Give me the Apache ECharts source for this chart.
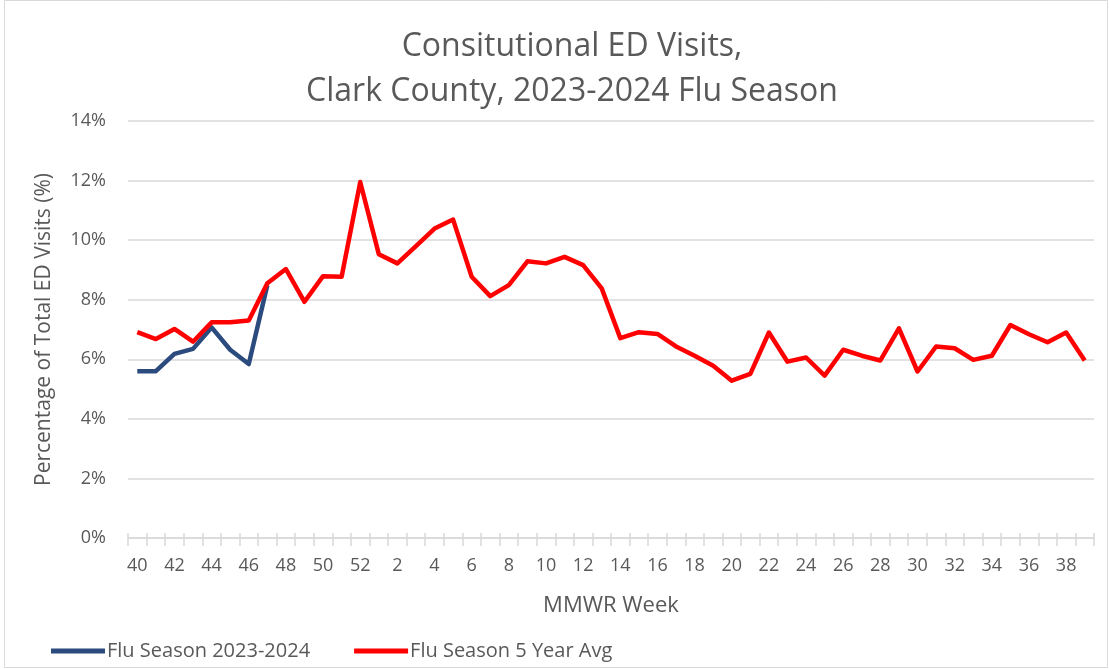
<!DOCTYPE html>
<html>
<head>
<meta charset="utf-8">
<script src="https://cdn.jsdelivr.net/npm/echarts@6/dist/echarts.min.js"></script>
<style>
html,body{margin:0;padding:0;background:#fff;}
#chart{width:1109px;height:669px;}
</style>
</head>
<body>
<div id="chart"></div>
<script>
const weeks = [40,41,42,43,44,45,46,47,48,49,50,51,52,1,2,3,4,5,6,7,8,9,10,11,12,13,14,15,16,17,18,19,20,21,22,23,24,25,26,27,28,29,30,31,32,33,34,35,36,37,38,39];
const season2324 = [5.6,5.6,6.18,6.35,7.07,6.32,5.84,8.49];
const fiveYearAvg = [6.91,6.68,7.02,6.59,7.24,7.24,7.3,8.55,9.03,7.93,8.79,8.77,11.95,9.53,9.22,9.8,10.39,10.69,8.77,8.12,8.49,9.29,9.22,9.44,9.16,8.38,6.71,6.91,6.85,6.43,6.12,5.78,5.28,5.51,6.9,5.92,6.06,5.45,6.32,6.12,5.96,7.04,5.59,6.43,6.37,5.98,6.12,7.15,6.84,6.57,6.9,5.96];
const yTicks = [0,2,4,6,8,10,12,14];

const FONT = '"Open Sans", Lato, sans-serif';
const TXT = '#595959';
const chart = echarts.init(document.getElementById('chart'), null, {renderer:'canvas'});
const grid = {left:128, right:15, top:121, bottom:131};
chart.setOption({
  backgroundColor:'#fff',
  animation:false,
  graphic:[{type:'rect', shape:{x:4.5,y:0.5,width:1103,height:667}, style:{fill:'none', stroke:'#d9d9d9', lineWidth:1}, silent:true}],
  title:{
    text:'Consitutional ED Visits,\nClark County, 2023-2024 Flu Season',
    left:567, textAlign:'center', top:19,
    textStyle:{fontFamily:FONT, fontSize:32, fontWeight:'normal', color:TXT, lineHeight:45}
  },
  legend:{
    left:46, top:636, itemWidth:54, itemHeight:5, itemGap:44,
    icon:'rect',
    textStyle:{fontFamily:FONT, fontSize:20, color:TXT, padding:[0,0,0,-3]},
    data:['Flu Season 2023-2024','Flu Season 5 Year Avg']
  },
  grid:grid,
  xAxis:[{
    type:'category', data:weeks, boundaryGap:true,
    name:'MMWR Week', nameLocation:'middle', nameGap:57,
    nameTextStyle:{fontFamily:FONT, fontSize:22, color:TXT},
    axisLine:{lineStyle:{color:'#d9d9d9', width:1.5}},
    axisTick:{show:true, interval:0, length:8, lineStyle:{color:'#d9d9d9', width:1.5}},
    axisLabel:{interval:1, fontFamily:FONT, fontSize:18, color:TXT, margin:19},
    splitLine:{show:false}
  },{
    type:'category', data:weeks, boundaryGap:true, position:'bottom',
    axisLine:{show:false},
    axisTick:{show:true, inside:true, interval:0, length:5, lineStyle:{color:'#d9d9d9', width:1.5}},
    axisLabel:{show:false}, splitLine:{show:false}
  }],
  yAxis:{
    type:'value', min:0, max:14, interval:2,
    name:'Percentage of Total ED Visits (%)', nameLocation:'middle', nameGap:73, nameRotate:90,
    nameTextStyle:{fontFamily:FONT, fontSize:21, color:TXT},
    axisLine:{show:false}, axisTick:{show:false},
    axisLabel:{fontFamily:FONT, fontSize:18, color:TXT, margin:22, formatter:v=>v+'%'},
    splitLine:{lineStyle:{color:'#d9d9d9', width:1.5}}
  },
  series:[{
    name:'Flu Season 2023-2024', type:'line', data:season2324,
    symbol:'none', lineStyle:{color:'#2B4A7E', width:4.5, join:'round'}, itemStyle:{color:'#2B4A7E'}, z:2
  },{
    name:'Flu Season 5 Year Avg', type:'line', data:fiveYearAvg,
    symbol:'none', lineStyle:{color:'#FF0000', width:4.5, join:'round'}, itemStyle:{color:'#FF0000'}, z:3
  }]
});
</script>
</body>
</html>
